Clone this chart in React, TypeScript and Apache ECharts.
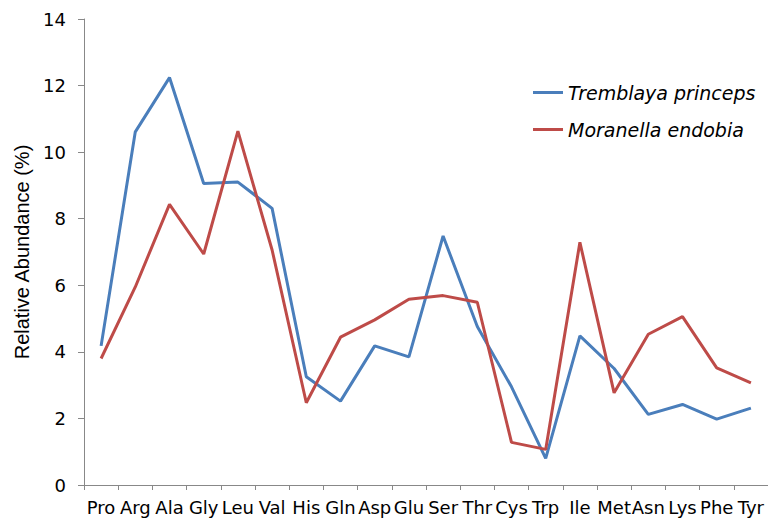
import React, { useEffect, useRef } from "react";
import * as echarts from "echarts";

const categories = ["Pro", "Arg", "Ala", "Gly", "Leu", "Val", "His", "Gln", "Asp", "Glu", "Ser", "Thr", "Cys", "Trp", "Ile", "Met", "Asn", "Lys", "Phe", "Tyr"];
const tremblaya = [4.18, 10.61, 12.24, 9.06, 9.1, 8.31, 3.25, 2.52, 4.18, 3.85, 7.48, 4.76, 2.95, 0.8, 4.48, 3.5, 2.12, 2.42, 1.98, 2.31];
const moranella = [3.8, 5.95, 8.43, 6.94, 10.63, 7.06, 2.47, 4.44, 4.96, 5.58, 5.69, 5.49, 1.28, 1.07, 7.29, 2.77, 4.53, 5.06, 3.52, 3.07];
const seriesNames = ["Tremblaya princeps", "Moranella endobia"];
const colors = ["#4a7ebb", "#be4b48"];

export default function App() {
  const ref = useRef<HTMLDivElement>(null);
  useEffect(() => {
    if (!ref.current) return;
    const chart = echarts.init(ref.current, null, { renderer: "svg" });
    const wide = "'DejaVu Sans', Verdana, sans-serif";
    const arial = "'Liberation Sans', Arial, Helvetica, sans-serif";
    chart.setOption({
      animation: false,
      textStyle: { fontFamily: wide },
      grid: { left: 84, right: -1, top: 19, bottom: 35, containLabel: false },
      legend: {
        orient: "vertical",
        left: 528,
        top: 78,
        itemWidth: 30,
        itemHeight: 3,
        itemGap: 18,
        icon: "rect",
        textStyle: { fontSize: 19, fontStyle: "italic", color: "#000", fontFamily: wide },
        data: seriesNames,
      },
      xAxis: {
        type: "category",
        data: categories,
        boundaryGap: true,
        axisLine: { lineStyle: { color: "#888", width: 1 } },
        axisTick: { show: true, length: 5, lineStyle: { color: "#888" } },
        axisLabel: { color: "#000", fontSize: 18, margin: 13, interval: 0, fontFamily: wide },
      },
      yAxis: {
        type: "value",
        min: 0,
        max: 14,
        interval: 2,
        name: "Relative Abundance (%)",
        nameLocation: "middle",
        nameGap: 48,
        nameTextStyle: { fontSize: 20, color: "#000", fontFamily: arial },
        axisLine: { show: true, lineStyle: { color: "#888", width: 1 } },
        axisTick: { show: true, length: 6, lineStyle: { color: "#888" } },
        axisLabel: { color: "#000", fontSize: 18, margin: 18, fontFamily: wide },
        splitLine: { show: false },
      },
      series: [
        {
          name: seriesNames[0],
          type: "line",
          data: tremblaya,
          symbol: "none",
          lineStyle: { color: colors[0], width: 3 },
          itemStyle: { color: colors[0] },
        },
        {
          name: seriesNames[1],
          type: "line",
          data: moranella,
          symbol: "none",
          lineStyle: { color: colors[1], width: 3 },
          itemStyle: { color: colors[1] },
        },
      ],
    });
    return () => chart.dispose();
  }, []);
  return <div ref={ref} style={{ width: 768, height: 520, position: "absolute", left: 0, top: 0 }} />;
}
